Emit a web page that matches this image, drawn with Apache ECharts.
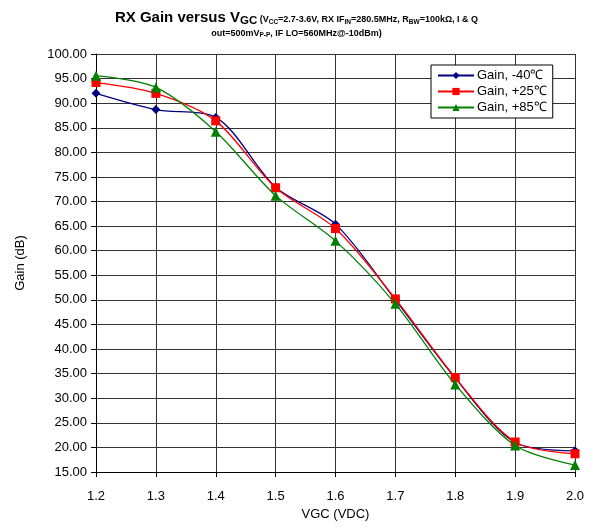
<!DOCTYPE html>
<html>
<head>
<meta charset="utf-8">
<script src="https://cdn.jsdelivr.net/npm/echarts@6/dist/echarts.min.js"></script>
<style>
  html, body { margin: 0; padding: 0; background: #fff; }
  #chart { width: 593px; height: 529px; }
</style>
</head>
<body>
<div id="chart"></div>
<script>
// Control voltage steps (VDC)
const vgc = ['1.2', '1.3', '1.4', '1.5', '1.6', '1.7', '1.8', '1.9', '2.0'];

// Receiver gain (dB) at each temperature
const gainM40 = [92.0, 88.7, 87.1, 72.9, 65.4, 50.0, 34.1, 21.0, 19.3];
const gainP25 = [94.2, 92.0, 86.4, 72.8, 64.5, 50.2, 34.2, 21.1, 18.7];
const gainP85 = [95.6, 93.2, 84.2, 71.2, 62.0, 49.2, 32.8, 20.4, 16.4];

const seriesNames = ['Gain, -40\u2103', 'Gain, +25\u2103', 'Gain, +85\u2103'];

const FONT = 'Liberation Sans, Arial, sans-serif';

const chart = echarts.init(document.getElementById('chart'), null, { renderer: 'canvas' });

const big = { fontFamily: FONT, fontWeight: 'bold', fontSize: 15, color: '#000' };
const bigSub = { fontFamily: FONT, fontWeight: 'bold', fontSize: 11.5, color: '#000', padding: [7, 0, 0, 0] };
const sm = { fontFamily: FONT, fontWeight: 'bold', fontSize: 9, color: '#000', padding: [5, 0, 0, 0] };
const smSub = { fontFamily: FONT, fontWeight: 'bold', fontSize: 6.5, color: '#000', padding: [9, 0, 0, 0] };

chart.setOption({
  backgroundColor: '#fff',
  animation: false,
  title: [
    {
      left: 'center',
      top: 3,
      text: '{b|RX Gain versus V}{bs|GC}{s| (V}{ss|CC}{s|=2.7-3.6V, RX IF}{ss|IN}{s|=280.5MHz, R}{ss|BW}{s|=100k\u03A9, I & Q}',
      textStyle: { rich: { b: big, bs: bigSub, s: sm, ss: smSub } }
    },
    {
      left: 'center',
      top: 18,
      text: '{s|out=500mV}{ss|P-P}{s|, IF LO=560MHz@-10dBm)}',
      textStyle: { rich: { s: sm, ss: smSub } }
    }
  ],
  legend: {
    orient: 'vertical',
    left: 431,
    top: 65,
    backgroundColor: '#fff',
    borderColor: '#000',
    borderWidth: 1,
    borderRadius: 0,
    padding: [4, 6, 4, 6],
    itemGap: 3,
    itemWidth: 36,
    itemHeight: 9,
    textStyle: { fontFamily: FONT, fontSize: 13, color: '#000', padding: [0, 0, 0, -2] },
    data: seriesNames
  },
  grid: { left: 96, right: 18, top: 54, bottom: 57 },
  xAxis: {
    type: 'category',
    data: vgc,
    boundaryGap: false,
    name: 'VGC (VDC)',
    nameLocation: 'middle',
    nameGap: 35,
    nameTextStyle: { fontFamily: FONT, fontSize: 13, color: '#000' },
    axisLine: { lineStyle: { color: '#000', width: 1 } },
    axisTick: { show: true, length: 5, alignWithLabel: true, lineStyle: { color: '#000' } },
    axisLabel: { fontFamily: FONT, fontSize: 13, color: '#000', margin: 18 },
    splitLine: { show: true, lineStyle: { color: '#333', width: 1 } }
  },
  yAxis: {
    type: 'value',
    min: 15,
    max: 100,
    interval: 5,
    name: 'Gain (dB)',
    nameLocation: 'middle',
    nameGap: 69,
    nameTextStyle: { fontFamily: FONT, fontSize: 13, color: '#000' },
    axisLine: { show: true, lineStyle: { color: '#000', width: 1 } },
    axisTick: { show: true, length: 5, lineStyle: { color: '#000' } },
    axisLabel: {
      fontFamily: FONT, fontSize: 13, color: '#000', margin: 9,
      formatter: v => v.toFixed(2)
    },
    splitLine: { show: true, lineStyle: { color: '#333', width: 1 } }
  },
  series: [
    {
      name: seriesNames[0],
      type: 'line',
      data: gainM40,
      smooth: 0.3,
      symbol: 'diamond',
      symbolSize: 9,
      itemStyle: { color: '#000080' },
      lineStyle: { color: '#000080', width: 1.3 },
      z: 3
    },
    {
      name: seriesNames[1],
      type: 'line',
      data: gainP25,
      smooth: 0.3,
      symbol: 'rect',
      symbolSize: 9,
      itemStyle: { color: '#ff0000' },
      lineStyle: { color: '#ff0000', width: 1.3 },
      z: 4
    },
    {
      name: seriesNames[2],
      type: 'line',
      data: gainP85,
      smooth: 0.3,
      symbol: 'triangle',
      symbolSize: 10,
      itemStyle: { color: '#008000' },
      lineStyle: { color: '#008000', width: 1.3 },
      z: 5
    }
  ]
});
</script>
</body>
</html>
